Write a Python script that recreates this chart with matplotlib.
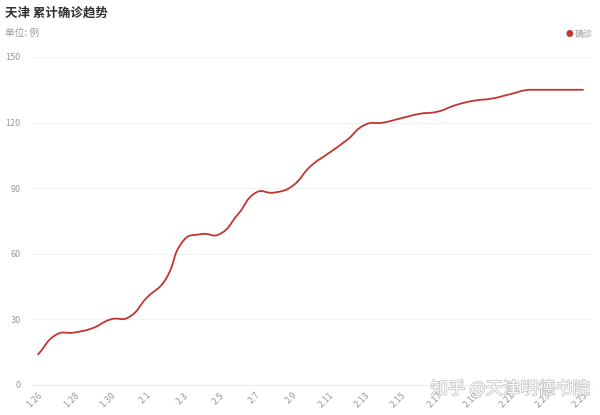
import numpy as np
import matplotlib
matplotlib.use("Agg")
import matplotlib.pyplot as plt
from matplotlib.path import Path
from matplotlib.patches import PathPatch
import matplotlib.patheffects as pe

plt.rcParams["font.family"] = ["Noto Sans CJK SC", "DejaVu Sans"]

# ------------------------------------------------------------
# data
# ------------------------------------------------------------

dates = [
    "1.26", "1.27", "1.28", "1.29", "1.30", "1.31",
    "2.1", "2.2", "2.3", "2.4", "2.5", "2.6", "2.7", "2.8", "2.9", "2.10",
    "2.11", "2.12", "2.13", "2.14", "2.15", "2.16", "2.17", "2.18", "2.19",
    "2.20", "2.21", "2.22", "2.23", "2.24", "2.25",
]

confirmed = [
    14, 23, 24, 26, 30, 31,
    40, 48, 66, 69, 69, 78, 88, 88, 91, 100,
    106, 112, 119, 120, 122, 124, 125, 128, 130,
    131, 133, 135, 135, 135, 135,
]

y_ticks = [0, 30, 60, 90, 120, 150]

RED = "#c23531"
GRAY = "#999999"


def smooth_path(ax, xs, ys, smooth=0.5):
    # bezier curve through the points, control points like echarts' smooth line
    pts = ax.transData.transform(np.column_stack([xs, ys]))
    lo = pts.min(axis=0)
    hi = pts.max(axis=0)
    n = len(pts)
    cps = []
    for i in range(n):
        p = pts[i]
        prev = pts[i - 1] if i > 0 else p
        nxt = pts[i + 1] if i < n - 1 else p
        v = (nxt - prev) * smooth
        d0 = np.hypot(*(p - prev))
        d1 = np.hypot(*(nxt - p))
        s = d0 + d1
        if s > 0:
            d0 /= s
            d1 /= s
        cps.append((np.clip(p - v * d0, lo, hi), np.clip(p + v * d1, lo, hi)))
    verts = [pts[0]]
    codes = [Path.MOVETO]
    for i in range(n - 1):
        verts += [cps[i][1], cps[i + 1][0], pts[i + 1]]
        codes += [Path.CURVE4] * 3
    verts = ax.transData.inverted().transform(np.array(verts))
    return Path(verts, codes)


# ------------------------------------------------------------
# figure
# ------------------------------------------------------------

fig = plt.figure(figsize=(6, 4.15), dpi=100)
ax = fig.add_axes([0.0528, 0.0723, 0.9333, 0.7904])

x = np.arange(len(dates))
ax.set_xlim(-0.35, len(dates) - 1 + 0.48)
ax.set_ylim(0, 150)

ax.set_yticks(y_ticks)
ax.set_yticklabels([str(t) for t in y_ticks])
ax.set_xticks(x[::2])
ax.set_xticklabels(dates[::2], rotation=45, ha="right", va="top",
                   rotation_mode="anchor")

ax.tick_params(axis="both", length=0, colors=GRAY, labelsize=6.5)
ax.tick_params(axis="y", pad=8)
ax.tick_params(axis="x", pad=4)

for side in ["top", "right", "left"]:
    ax.spines[side].set_visible(False)
ax.spines["bottom"].set_color("#eeeeee")
ax.spines["bottom"].set_linewidth(0.8)

ax.grid(axis="y", color="#f3f3f3", linewidth=0.8)
ax.set_axisbelow(True)

path = smooth_path(ax, x, confirmed)
ax.add_patch(PathPatch(path, fill=False, edgecolor=RED, linewidth=1.3,
                       capstyle="round", joinstyle="round"))

# titles
fig.text(5 / 600, 1 - 13 / 415, "天津 累计确诊趋势", fontsize=9,
         fontweight="bold", color="#333333", ha="left", va="center")
fig.text(5 / 600, 1 - 33 / 415, "单位: 例", fontsize=7, color=GRAY,
         ha="left", va="center")

# legend
fig.text(569 / 600, 1 - 34 / 415, "●", fontsize=5.5, color=RED,
         ha="center", va="center")
fig.text(575 / 600, 1 - 34 / 415, "确诊", fontsize=6.5, color=GRAY,
         ha="left", va="center")

# watermark
fig.text(590 / 600, 1 - 389 / 415, "知乎 @天津明德书院", fontsize=12.5,
         color="white", ha="right", va="center",
         path_effects=[pe.withStroke(linewidth=1.0, foreground="#c0c0c0")])

fig.savefig("out.png", dpi=100)
